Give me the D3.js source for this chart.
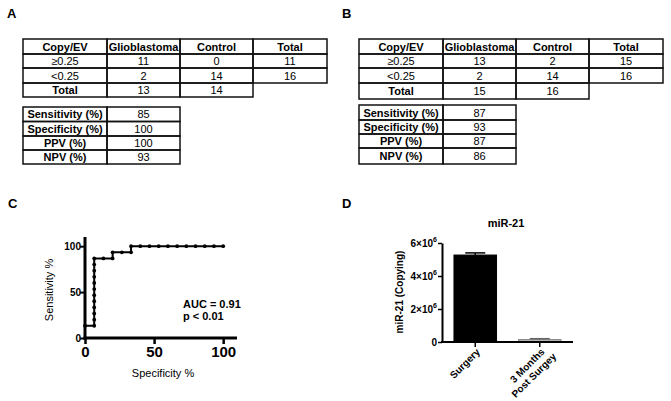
<!DOCTYPE html>
<html>
<head>
<meta charset="utf-8">
<script src="https://cdn.jsdelivr.net/npm/d3@7"></script>
<style>
  body { margin: 0; background: #fff; }
  text { font-family: "Liberation Sans", Arial, sans-serif; fill: #000; }
</style>
</head>
<body>
<div class="canvas"></div>
<script>
// table data
const tableHeader = ["Copy/EV", "Glioblastoma", "Control", "Total"];
const rowLabels = ["≥0.25", "<0.25", "Total"];
const countsA = [[11, 0, 11], [2, 14, 16], [13, 14, null]];
const countsB = [[13, 2, 15], [2, 14, 16], [15, 16, null]];
const metricLabels = ["Sensitivity (%)", "Specificity (%)", "PPV (%)", "NPV (%)"];
const metricsA = [85, 100, 100, 93];
const metricsB = [87, 93, 87, 86];

// ROC curve (x = 100 - specificity, y = sensitivity)
const rocX = [0, 0, 6.67, 6.67, 6.67, 6.67, 6.67, 6.67, 6.67, 6.67, 6.67, 6.67, 6.67, 6.67,
              13.33, 20, 20, 26.67, 33.33, 33.33,
              40, 46.67, 53.33, 60, 66.67, 73.33, 80, 86.67, 93.33, 100];
const rocY = [0, 13.33, 13.33, 20, 26.67, 33.33, 40, 46.67, 53.33, 60, 66.67, 73.33, 80, 86.67,
              86.67, 86.67, 93.33, 93.33, 93.33, 100,
              100, 100, 100, 100, 100, 100, 100, 100, 100, 100];
const rocTicks = [0, 50, 100];

// miR-21 bars
const barGroups = ["Surgery", "3 Months|Post Surgey"];
const barMeans = [5.27e6, 0.15e6];
const barErrors = [0.13e6, 0.05e6];
const barTicks = [0, 2e6, 4e6, 6e6];

const svg = d3.select(".canvas")
    .append("svg")
    .attr("width", 671)
    .attr("height", 401);

// panel letters
const letters = [["A", 7, 18], ["B", 342, 18], ["C", 8, 208], ["D", 342, 208]];
svg.selectAll(".letter")
    .data(letters)
    .enter().append("text")
    .attr("class", "letter")
    .attr("x", d => d[1])
    .attr("y", d => d[2])
    .attr("font-size", 13)
    .attr("font-weight", "bold")
    .text(d => d[0]);

// draws a table from rows of strings; isBold(r, c, cell) picks bold cells
function drawTable(g, rows, colWidths, rowHeights, isBold) {
    const xs = d3.cumsum([0].concat(colWidths));
    const ys = d3.cumsum([0].concat(rowHeights));
    rows.forEach((row, r) => {
        row.forEach((cell, c) => {
            if (cell === null) return;
            g.append("rect")
                .attr("x", xs[c])
                .attr("y", ys[r])
                .attr("width", colWidths[c])
                .attr("height", rowHeights[r])
                .attr("fill", "none")
                .attr("stroke", "#111")
                .attr("stroke-width", 1.5);
            g.append("text")
                .attr("x", xs[c] + colWidths[c] / 2)
                .attr("y", ys[r] + rowHeights[r] / 2 + 4)
                .attr("text-anchor", "middle")
                .attr("font-size", 11)
                .attr("font-weight", isBold(r, c, cell) ? "bold" : "normal")
                .text(cell);
        });
    });
}

function contingency(counts) {
    return [tableHeader].concat(rowLabels.map((lab, i) =>
        [lab].concat(counts[i].map(v => v === null ? null : String(v)))));
}
function metrics(vals) {
    return metricLabels.map((lab, i) => [lab, String(vals[i])]);
}
const colWidths = [84, 73, 73, 74];
const boldContingency = (r, c, cell) => r === 0 || (c === 0 && cell === "Total");
const boldMetrics = (r, c) => c === 0;

drawTable(svg.append("g").attr("transform", "translate(23,39)"),
    contingency(countsA), colWidths, [15, 14, 15, 14], boldContingency);
drawTable(svg.append("g").attr("transform", "translate(23,107)"),
    metrics(metricsA), colWidths.slice(0, 2), [14.5, 14.5, 14, 14], boldMetrics);
drawTable(svg.append("g").attr("transform", "translate(359,39)"),
    contingency(countsB), colWidths, [15, 14, 15, 16], boldContingency);
drawTable(svg.append("g").attr("transform", "translate(359,105)"),
    metrics(metricsB), colWidths.slice(0, 2), [15, 14, 14, 16], boldMetrics);

// ---------- panel C: ROC ----------
const rx = d3.scaleLinear().domain([0, 110]).range([85, 237]);
const ry = d3.scaleLinear().domain([0, 110]).range([338, 237]);

const rocYAxis = svg.append("g")
    .attr("transform", "translate(85,0)")
    .call(d3.axisLeft(ry).tickValues(rocTicks).tickSize(5).tickSizeOuter(0));
rocYAxis.select(".domain").attr("stroke-width", 3).attr("d", "M0,237V340");
rocYAxis.selectAll(".tick line").attr("stroke-width", 2);
rocYAxis.selectAll(".tick text").attr("font-size", 10).attr("font-weight", "bold")
    .attr("font-family", "Liberation Sans, Arial").attr("x", -4);

const rocXAxis = svg.append("g")
    .attr("transform", "translate(0,338)")
    .call(d3.axisBottom(rx).tickValues(rocTicks).tickSize(6).tickSizeOuter(0));
rocXAxis.select(".domain").attr("stroke-width", 3).attr("d", "M83.5,0H237");
rocXAxis.selectAll(".tick line").attr("stroke-width", 2.5);
rocXAxis.selectAll(".tick text").attr("font-size", 15).attr("font-weight", "bold")
    .attr("font-family", "Liberation Sans, Arial").attr("y", 8);

const rocPts = rocX.map((x, i) => [x, rocY[i]]);
svg.append("path")
    .datum(rocPts)
    .attr("fill", "none")
    .attr("stroke", "#000")
    .attr("stroke-width", 2)
    .attr("d", d3.line().x(d => rx(d[0])).y(d => ry(d[1])));
svg.selectAll(".rocdot")
    .data(rocPts.slice(1))
    .enter().append("circle")
    .attr("class", "rocdot")
    .attr("cx", d => rx(d[0]))
    .attr("cy", d => ry(d[1]))
    .attr("r", 1.9)
    .attr("fill", "#000");

svg.append("text").attr("x", 183).attr("y", 308)
    .attr("font-size", 11).attr("font-weight", "bold").text("AUC = 0.91");
svg.append("text").attr("x", 183).attr("y", 320)
    .attr("font-size", 11).attr("font-weight", "bold").text("p < 0.01");

svg.append("text")
    .attr("transform", "translate(53,290) rotate(-90)")
    .attr("text-anchor", "middle")
    .attr("font-size", 11)
    .text("Sensitivity %");
svg.append("text")
    .attr("x", 163).attr("y", 377)
    .attr("text-anchor", "middle")
    .attr("font-size", 11)
    .text("Specificity %");

// ---------- panel D: bars ----------
const bx = d3.scaleBand()
    .domain(barGroups)
    .range([443, 572])
    .paddingInner(0.34)
    .paddingOuter(0.17);
const by = d3.scaleLinear().domain([0, 6e6]).range([342, 243]);

svg.selectAll(".bar")
    .data(barGroups)
    .enter().append("rect")
    .attr("class", "bar")
    .attr("x", d => bx(d))
    .attr("y", (d, i) => by(barMeans[i]))
    .attr("width", bx.bandwidth())
    .attr("height", (d, i) => by(0) - by(barMeans[i]))
    .attr("fill", (d, i) => i === 0 ? "#000" : "#b4b4b4")
    .attr("stroke", (d, i) => i === 0 ? "#000" : "#8a8a8a")
    .attr("stroke-width", 1);

// error bars
barGroups.forEach((g, i) => {
    const cx = bx(g) + bx.bandwidth() / 2;
    const col = i === 0 ? "#000" : "#666";
    svg.append("line")
        .attr("x1", cx).attr("x2", cx)
        .attr("y1", by(barMeans[i])).attr("y2", by(barMeans[i] + barErrors[i]))
        .attr("stroke", col).attr("stroke-width", 1.5);
    svg.append("line")
        .attr("x1", cx - 10).attr("x2", cx + 10)
        .attr("y1", by(barMeans[i] + barErrors[i])).attr("y2", by(barMeans[i] + barErrors[i]))
        .attr("stroke", col).attr("stroke-width", 1.5);
});

const barYAxis = svg.append("g")
    .attr("transform", "translate(442,0)")
    .call(d3.axisLeft(by).tickValues(barTicks).tickSize(4).tickSizeOuter(0));
barYAxis.select(".domain").attr("stroke-width", 2);
barYAxis.selectAll(".tick line").attr("stroke-width", 1.5);
barYAxis.selectAll(".tick text").each(function(d) {
    const t = d3.select(this).text("")
        .attr("font-size", 10).attr("font-weight", "bold")
        .attr("font-family", "Liberation Sans, Arial").attr("x", -5);
    if (d === 0) { t.text("0"); return; }
    t.append("tspan").text((d / 1e6) + "×10");
    t.append("tspan").attr("font-size", 7).attr("dy", -5).text("6");
});

const barXAxis = svg.append("g")
    .attr("transform", "translate(0,342)")
    .call(d3.axisBottom(bx).tickSize(5).tickSizeOuter(0));
barXAxis.select(".domain").attr("stroke-width", 2).attr("d", "M441,0H573");
barXAxis.selectAll(".tick line").attr("stroke-width", 1.5);
barXAxis.selectAll(".tick text").each(function(d) {
    const lines = d.split("|");
    const t = d3.select(this).text("")
        .attr("font-size", 10).attr("font-weight", "bold")
        .attr("font-family", "Liberation Sans, Arial")
        .attr("text-anchor", "end")
        .attr("y", 0).attr("dy", null)
        .attr("transform", "translate(3,8) rotate(-45)");
    lines.forEach((l, k) => {
        t.append("tspan").attr("x", k * 5).attr("dy", k === 0 ? "0.35em" : "1.15em").text(l);
    });
});

svg.append("text")
    .attr("x", 506).attr("y", 227)
    .attr("text-anchor", "middle")
    .attr("font-size", 11).attr("font-weight", "bold")
    .text("miR-21");
svg.append("text")
    .attr("transform", "translate(403,292) rotate(-90)")
    .attr("text-anchor", "middle")
    .attr("font-size", 10).attr("font-weight", "bold")
    .text("miR-21 (Copying)");
</script>
</body>
</html>
